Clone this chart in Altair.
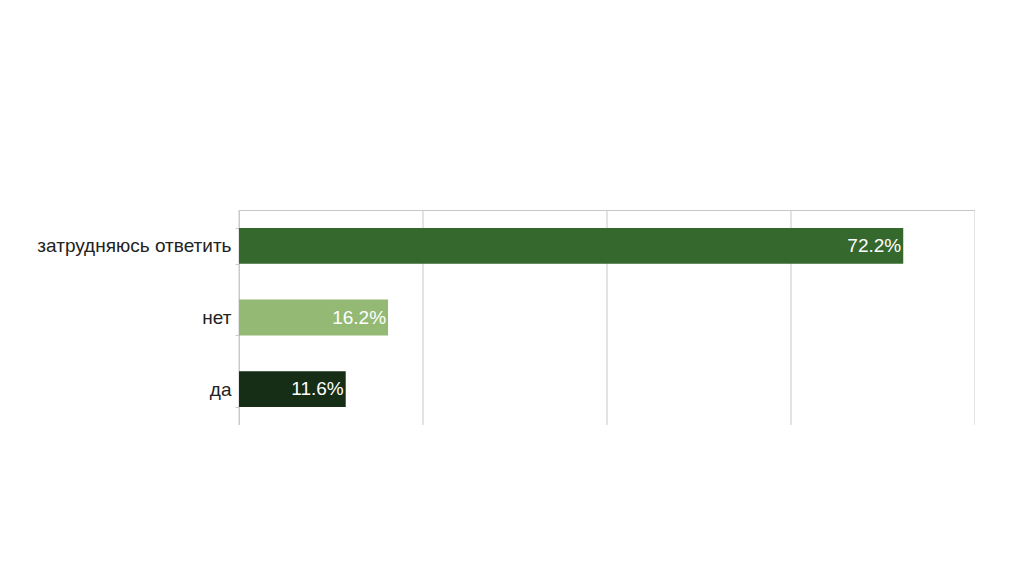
import altair as alt
import pandas as pd

categories = ["затрудняюсь ответить", "нет", "да"]
values = [0.722, 0.162, 0.116]
labels = ["72.2%", "16.2%", "11.6%"]
colors = ["#35682d", "#93b975", "#162d16"]
grid_values = [0, 0.2, 0.4, 0.6, 0.8]

df = pd.DataFrame({"cat": categories, "val": values, "lab": labels, "col": colors})
gdf = pd.DataFrame({"g": grid_values})

y_enc = alt.Y("cat:N", sort=categories, title=None,
              scale=alt.Scale(paddingInner=0.5, paddingOuter=0.25),
              axis=alt.Axis(labelFontSize=19, labelFont="Liberation Sans", labelColor="#222222",
                            labelPadding=4, labelLimit=400, tickBand="extent", tickSize=4,
                            tickColor="#cccccc", domainColor="#cccccc", grid=False))
x_enc = alt.X("val:Q", title=None,
              scale=alt.Scale(domain=[0, 0.8], nice=False),
              axis=alt.Axis(orient="top", values=grid_values, labels=False, ticks=False,
                            domainColor="#c8c8c8", grid=False))

grid = alt.Chart(gdf).mark_rule(color="#c8c8c8", strokeWidth=1).encode(x="g:Q")

bars = alt.Chart(df).mark_bar().encode(
    x=x_enc, y=y_enc, color=alt.Color("col:N", scale=None)
)
text = alt.Chart(df).mark_text(align="right", baseline="middle", dx=-2, fontSize=19,
                               font="Liberation Sans", color="white").encode(
    x="val:Q", y=alt.Y("cat:N", sort=categories), text="lab:N"
)

chart = (grid + bars + text).properties(
    width=736, height=215,
    autosize=alt.AutoSizeParams(type="none"),
    padding={"left": 231, "top": 202, "right": 0, "bottom": 0},
).configure_view(stroke=None).configure(background="white")

chart.save("out.html", embed_options={"renderer": "svg", "actions": False})
